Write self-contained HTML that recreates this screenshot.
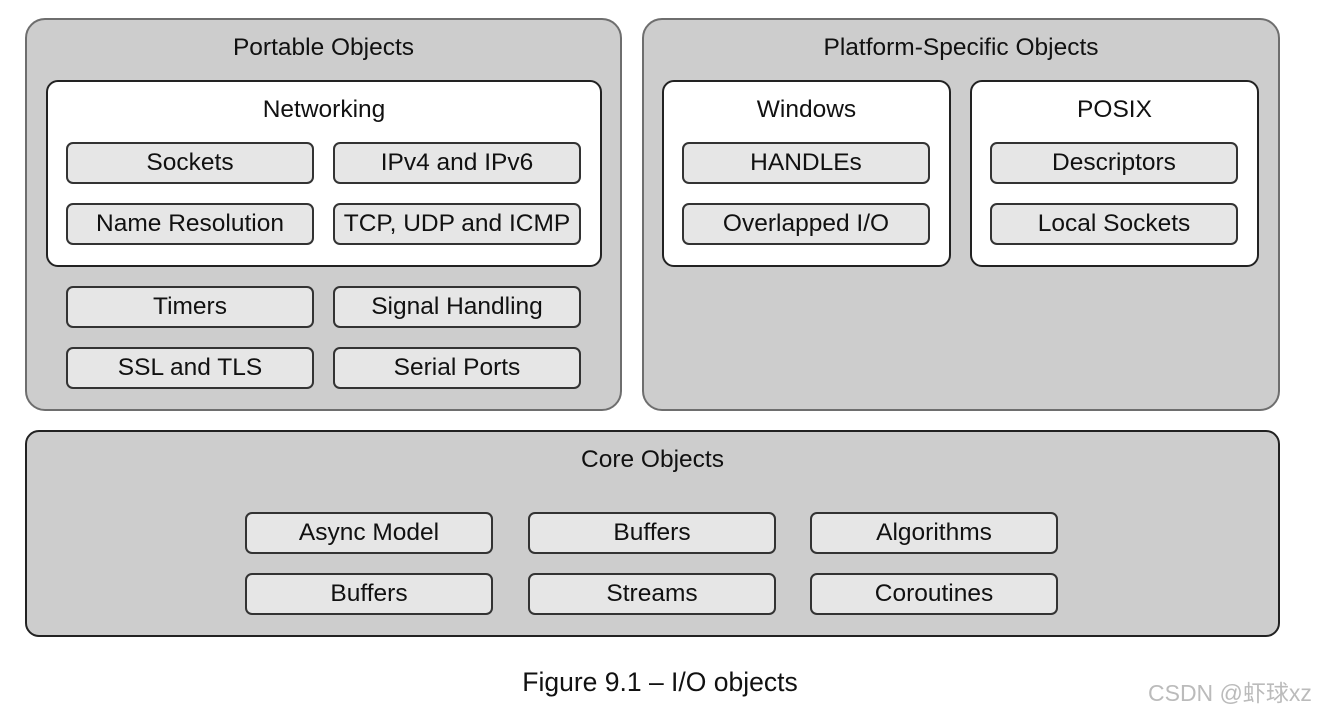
<!DOCTYPE html>
<html><head><style>
body{margin:0;width:1320px;height:710px;background:#fff;position:relative;font-family:"Liberation Sans",Arial,sans-serif;overflow:hidden}
div{position:absolute;box-sizing:border-box}
.p{background:#cdcdcd;border:2px solid #6e6e6e;border-radius:20px}
.w{background:#fff;border:2px solid #222;border-radius:12px}
.b{background:#e6e6e6;border:2px solid #333;border-radius:7px;font-size:24.5px;color:#111;text-align:center;line-height:38px;height:42px;width:248px;white-space:nowrap}
.t{font-size:24.5px;color:#111;text-align:center}
</style></head><body>
<div class="p" style="left:25px;top:18px;width:597px;height:393px"></div>
<div class="t" style="left:25px;top:34px;width:597px">Portable Objects</div>
<div class="w" style="left:46px;top:80px;width:556px;height:187px"></div>
<div class="t" style="left:46px;top:96px;width:556px">Networking</div>
<div class="b" style="left:66px;top:142px">Sockets</div>
<div class="b" style="left:333px;top:142px">IPv4 and IPv6</div>
<div class="b" style="left:66px;top:203px">Name Resolution</div>
<div class="b" style="left:333px;top:203px">TCP, UDP and ICMP</div>
<div class="b" style="left:66px;top:286px">Timers</div>
<div class="b" style="left:333px;top:286px">Signal Handling</div>
<div class="b" style="left:66px;top:347px">SSL and TLS</div>
<div class="b" style="left:333px;top:347px">Serial Ports</div>

<div class="p" style="left:642px;top:18px;width:638px;height:393px"></div>
<div class="t" style="left:642px;top:34px;width:638px">Platform-Specific Objects</div>
<div class="w" style="left:662px;top:80px;width:289px;height:187px"></div>
<div class="t" style="left:662px;top:96px;width:289px">Windows</div>
<div class="b" style="left:682px;top:142px">HANDLEs</div>
<div class="b" style="left:682px;top:203px">Overlapped I/O</div>
<div class="w" style="left:970px;top:80px;width:289px;height:187px"></div>
<div class="t" style="left:970px;top:96px;width:289px">POSIX</div>
<div class="b" style="left:990px;top:142px">Descriptors</div>
<div class="b" style="left:990px;top:203px">Local Sockets</div>

<div class="p" style="left:25px;top:430px;width:1255px;height:207px;border-color:#222;border-radius:14px"></div>
<div class="t" style="left:25px;top:446px;width:1255px">Core Objects</div>
<div class="b" style="left:245px;top:512px">Async Model</div>
<div class="b" style="left:528px;top:512px">Buffers</div>
<div class="b" style="left:810px;top:512px">Algorithms</div>
<div class="b" style="left:245px;top:573px">Buffers</div>
<div class="b" style="left:528px;top:573px">Streams</div>
<div class="b" style="left:810px;top:573px">Coroutines</div>

<div style="left:400px;top:667px;width:520px;text-align:center;font-size:26.5px;color:#111">Figure 9.1 – I/O objects</div>
<div style="left:1148px;top:674px;font-size:23px;color:#bbb;font-family:'Liberation Sans','Noto Sans CJK SC',sans-serif">CSDN @虾球xz</div>
</body></html>
